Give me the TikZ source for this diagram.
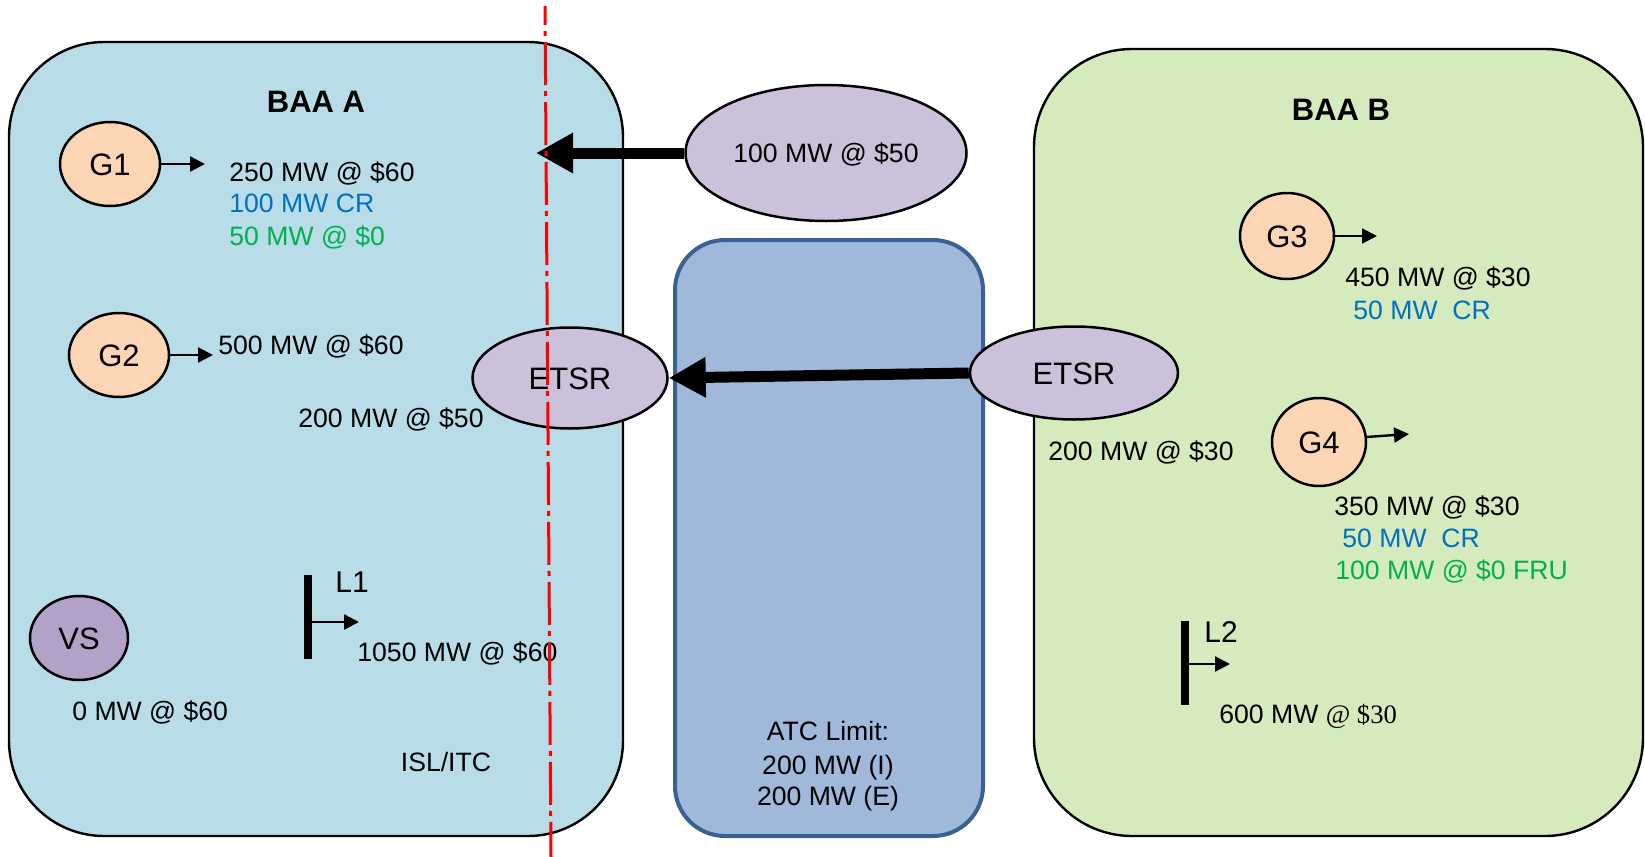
\documentclass[tikz,border=0pt]{standalone}
\usepackage{fontspec}
\setmainfont{Liberation Sans}
\newfontfamily\timesf{Liberation Serif}
\usetikzlibrary{shapes.geometric,arrows.meta}
\definecolor{baaAfill}{HTML}{B8DDE8}
\definecolor{baaBfill}{HTML}{D6EBBD}
\definecolor{atcfill}{HTML}{A0B8D9}
\definecolor{atcdraw}{HTML}{3B6092}
\definecolor{lavfill}{HTML}{CCC1DA}
\definecolor{vsfill}{HTML}{B3A2C7}
\definecolor{genfill}{HTML}{FCD5B5}
\definecolor{crblue}{HTML}{0070C0}
\definecolor{frugreen}{HTML}{00B050}
\definecolor{seamred}{HTML}{FF0000}
\newcommand\bodyfont{\fontsize{13.3}{16}\selectfont}
\newcommand\labfont{\fontsize{15.5}{18}\selectfont}
\tikzset{
  region/.style={draw, line width=1.2pt, rectangle, inner sep=0pt},
  gen/.style={ellipse, draw, line width=1.25pt, fill=genfill, inner sep=0pt,
    font=\labfont, text height=11.1pt, text depth=0pt},
  oval/.style={ellipse, draw, line width=1.25pt, fill=lavfill, inner sep=0pt,
    text height=9.5pt, text depth=0pt},
  txt/.style={inner sep=0pt, anchor=west, font=\bodyfont, text height=9.5pt, text depth=0pt},
  ctxt/.style={inner sep=0pt, anchor=center, font=\bodyfont, text height=9.5pt, text depth=0pt},
  title/.style={inner sep=0pt, anchor=center, font=\labfont\bfseries, text height=11.1pt, text depth=0pt},
  lab/.style={inner sep=0pt, anchor=west, font=\fontsize{15}{18}\selectfont, text height=10.7pt, text depth=0pt},
  thin/.style={line width=1.2pt, -{Triangle[length=7.5pt,width=7.5pt]}},
  thick/.style={line width=5.5pt, -{Triangle[length=18.5pt,width=19pt]}},
  bar/.style={line width=4pt},
}
\begin{document}
\begin{tikzpicture}[x=0.5pt,y=-0.5pt]
\fill[white] (0,0) rectangle (1645,857);
\useasboundingbox (0,0) rectangle (1645,857);
% regions
\node[region, fill=baaAfill, rounded corners=47.5pt, minimum width=307pt, minimum height=397pt] (baaA) at (316,439) {};
\node[region, fill=baaBfill, rounded corners=49pt, minimum width=304.5pt, minimum height=393.5pt] (baaB) at (1338.5,442.5) {};
\node[region, draw=atcdraw, line width=2pt, fill=atcfill, rounded corners=25pt, minimum width=154pt, minimum height=298pt] (atc) at (829,538) {};
% titles
\node[title] (tA) at (316,101) {BAA A};
\node[title] (tB) at (1341,109) {BAA B};
% generators
\node[gen, minimum width=50pt, minimum height=42pt] (G1) at (110,164) {G1};
\node[gen, minimum width=50pt, minimum height=42pt] (G2) at (119,355) {G2};
\node[gen, fill=vsfill, minimum width=49pt, minimum height=42pt] (VS) at (79,638) {VS};
\node[gen, minimum width=47pt, minimum height=43pt] (G3) at (1287,236) {G3};
\node[gen, minimum width=47pt, minimum height=44pt] (G4) at (1319,442) {G4};
% ovals
\node[oval, font=\bodyfont, minimum width=140.5pt, minimum height=68pt] (res) at (826,153) {100 MW @ \$50};
\node[oval, font=\labfont, text height=11.1pt, minimum width=97.5pt, minimum height=50.5pt] (etsrL) at (570,378) {ETSR};
\node[oval, font=\labfont, text height=11.1pt, minimum width=104pt, minimum height=46.5pt] (etsrR) at (1074,373) {ETSR};
% generator arrows
\coordinate (g1t) at (205,164);
\coordinate (g2t) at (213,355);
\coordinate (g3t) at (1377,236);
\coordinate (g4t) at (1409,434);
\draw[thin] (G1.east) -- (g1t);
\draw[thin] (G2.east) -- (g2t);
\draw[thin] (G3.east) -- (g3t);
\draw[thin] (G4.6) -- (g4t);
% loads
\coordinate (L1a) at (308,575);
\coordinate (L1b) at (308,659);
\coordinate (L1m) at (308,622);
\coordinate (L1t) at (359,622);
\draw[bar] (L1a) -- (L1b);
\draw[thin] (L1m) -- (L1t);
\coordinate (L2a) at (1185,621);
\coordinate (L2b) at (1185,705);
\coordinate (L2m) at (1185,664);
\coordinate (L2t) at (1230,664);
\draw[bar] (L2a) -- (L2b);
\draw[thin] (L2m) -- (L2t);
\node[lab] (L1) at (335,582) {L1};
\node[lab] (L2) at (1204,632) {L2};
% texts BAA A
\node[txt] (t250) at (229,172) {250 MW @ \$60};
\node[txt, text=crblue] (t100cr) at (229,203) {100 MW CR};
\node[txt, text=frugreen] (t50) at (229,236) {50 MW @ \$0};
\node[txt] (t500) at (218,345) {500 MW @ \$60};
\node[txt] (t200a) at (298,418) {200 MW @ \$50};
\node[txt] (t0) at (72,711) {0 MW @ \$60};
\node[txt] (t1050) at (357,652) {1050 MW @ \$60};
\node[ctxt] (isl) at (446,762) {ISL/ITC};
% texts BAA B
\node[txt] (t450) at (1345,277) {450 MW @ \$30};
\node[txt, text=crblue] (t50cr3) at (1353,310) {50 MW\ \ CR};
\node[txt] (t200b) at (1048,451) {200 MW @ \$30};
\node[txt] (t350) at (1334,506) {350 MW @ \$30};
\node[txt, text=crblue] (t50cr4) at (1342,538) {50 MW\ \ CR};
\node[txt, text=frugreen] (t100fru) at (1335,570) {100 MW @ \$0 FRU};
\node[txt] (t600) at (1219,714) {600 MW {\timesf @ \$30}};
% ATC text
\node[ctxt] (atc1) at (828,731) {ATC Limit:};
\node[ctxt] (atc2) at (828,765) {200 MW (I)};
\node[ctxt] (atc3) at (828,796) {200 MW (E)};
% thick arrows
\coordinate (tip1) at (536,153);
\draw[thick] (res.west) -- (tip1);
\draw[thick] (etsrR.west) -- (etsrL.east);
% seam line
\coordinate (seamTop) at (545,6);
\coordinate (seamBot) at (551,857);
\draw[seamred, line width=1.5pt, dash pattern=on 21.5pt off 3pt on 2.5pt off 3pt, dash phase=12pt] (seamTop) -- (seamBot);
\end{tikzpicture}
\end{document}
